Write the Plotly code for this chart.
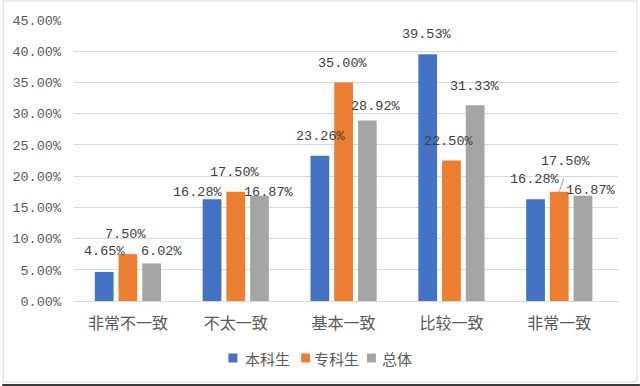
import plotly.graph_objects as go

categories = ["非常不一致", "不太一致", "基本一致", "比较一致", "非常一致"]
series_names = ["本科生", "专科生", "总体"]
undergrad = [0.0465, 0.1628, 0.2326, 0.3953, 0.1628]
junior = [0.0750, 0.1750, 0.3500, 0.2250, 0.1750]
overall = [0.0602, 0.1687, 0.2892, 0.3133, 0.1687]
y_ticks = [0, 0.05, 0.10, 0.15, 0.20, 0.25, 0.30, 0.35, 0.40, 0.45]

colors = ["#4472C4", "#ED7D31", "#A5A5A5"]
series = [undergrad, junior, overall]

# label nudges (pixels) per series per category, mimicking the original placement
label_dx = [[0, -14, 1, -1, -1], [-2, -1, -1, -2, 7], [10, 10, 9, 0, 8]]
label_dy = [[20, 7, 19, 20, 20], [20, 19, 19, 19, 30], [12, 3, 14, 19, 5]]

W, H = 640, 386
ML, MR, MT, MB = 72, 22, 20, 85
PW, PH = W - ML - MR, H - MT - MB

def px_x(px):
    return (px - ML) / PW

def px_y(py):
    return (H - MB - py) / PH

BARGAP = 0.34
BARGROUPGAP = 0.21
num_font = "Liberation Mono"
cjk_font = "Noto Sans CJK SC"

fig = go.Figure()
for name, vals, col in zip(series_names, series, colors):
    fig.add_trace(go.Bar(
        name=name, x=categories, y=vals,
        marker=dict(color=col, line=dict(width=0)),
        showlegend=False,
    ))

slot = (1 - BARGAP) / len(series)
annotations = []
for i, vals in enumerate(series):
    for j, v in enumerate(vals):
        annotations.append(dict(
            x=j + (i - 1) * slot, y=v, xref="x", yref="y",
            text=f"{v*100:.2f}%", showarrow=False,
            xshift=label_dx[i][j], yshift=label_dy[i][j],
            yanchor="middle", xanchor="center",
            font=dict(family=num_font, size=13.5, color="#404040"),
        ))
# leader line for the shifted label
annotations.append(dict(
    x=4, y=junior[4], xref="x", yref="y", text="", showarrow=True,
    arrowhead=0, arrowwidth=1, arrowcolor="#A6A6A6", ax=5, ay=-15,
    standoff=0, startstandoff=0,
))

shapes = [
    dict(type="rect", xref="paper", yref="paper",
         x0=px_x(1), x1=px_x(637), y0=px_y(1), y1=px_y(382),
         line=dict(color="#D9D9D9", width=1)),
    dict(type="line", xref="paper", yref="paper",
         x0=px_x(0), x1=px_x(640), y0=px_y(385), y1=px_y(385),
         line=dict(color="#3A3A3A", width=2)),
]

# legend (drawn manually to match the compact original layout)
legend_sq = [227, 300, 366]
legend_tx = [242, 311, 379]
LEG_Y = 358
for name, col, sx, tx in zip(series_names, colors, legend_sq, legend_tx):
    shapes.append(dict(type="rect", xref="paper", yref="paper",
                       x0=px_x(sx), x1=px_x(sx + 9),
                       y0=px_y(LEG_Y - 4.5), y1=px_y(LEG_Y + 4.5),
                       fillcolor=col, line=dict(width=0)))
    annotations.append(dict(
        x=px_x(tx), y=px_y(LEG_Y), xref="paper", yref="paper",
        text=name, showarrow=False, xanchor="left", yanchor="middle",
        font=dict(family=cjk_font, size=15, color="#595959"),
    ))

fig.update_layout(
    width=W, height=H,
    margin=dict(l=ML, r=MR, t=MT, b=MB),
    paper_bgcolor="white", plot_bgcolor="white",
    barmode="group", bargap=BARGAP, bargroupgap=BARGROUPGAP,
    showlegend=False,
    annotations=annotations,
    shapes=shapes,
)
fig.update_xaxes(
    showgrid=False, showline=True, linecolor="#D9D9D9", linewidth=1,
    ticks="", ticklabelstandoff=8,
    tickfont=dict(family=cjk_font, size=16, color="#595959"),
)
fig.update_yaxes(
    range=[0, 0.45], tickvals=y_ticks, tickformat=".2%",
    showgrid=True, gridcolor="#D9D9D9", gridwidth=1,
    zeroline=False, showline=False, ticks="", ticklabelstandoff=12,
    tickfont=dict(family=num_font, size=13.5, color="#595959"),
)

fig.write_html(
    "out.html",
    config={"displayModeBar": False},
    post_script=(
        "document.body.style.margin='0';"
        "document.body.style.overflow='hidden';"
        "document.documentElement.style.overflow='hidden';"
    ),
)
